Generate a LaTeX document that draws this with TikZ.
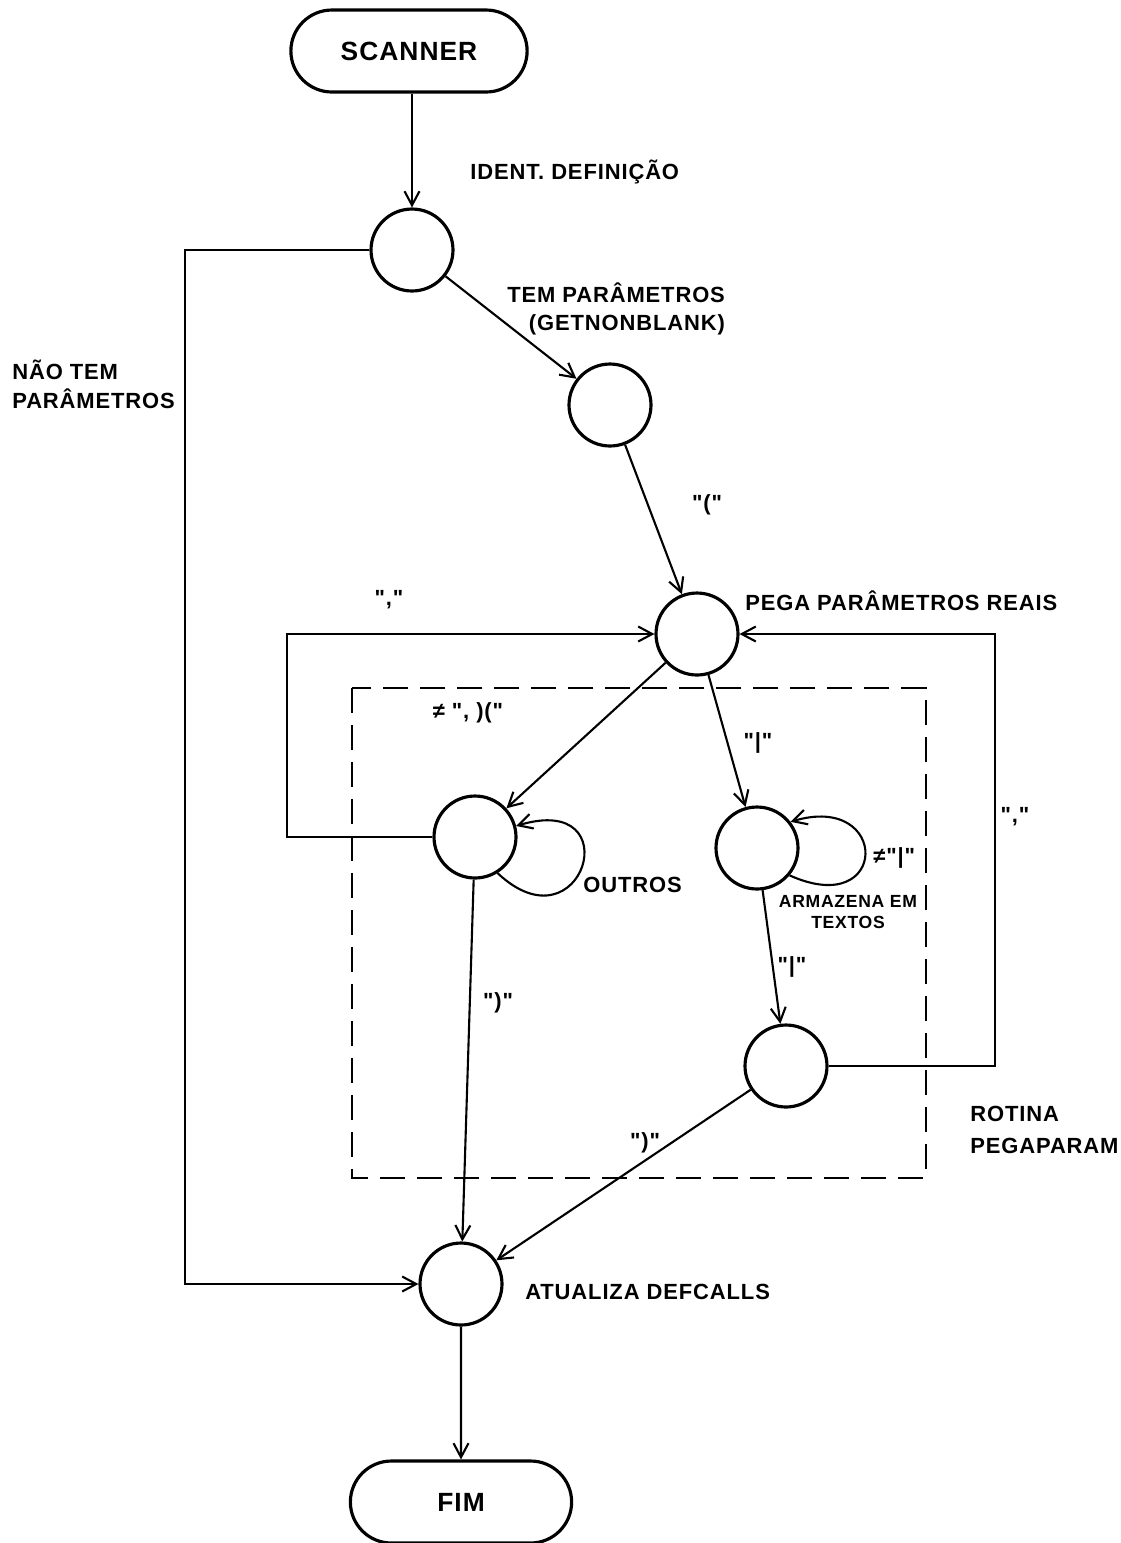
\documentclass[tikz,border=0pt]{standalone}
\usepackage{fontspec}
\setmainfont{Liberation Sans}[Ligatures=TeXOff,LetterSpace=4]
\usetikzlibrary{arrows.meta,positioning,calc,shapes.misc}

\begin{document}
\begin{tikzpicture}[x=0.02cm,y=0.02cm, every node/.style={font=\bfseries\fontsize{12.5}{16}\selectfont},
 st/.style={draw,circle,line width=1.8pt,minimum size=1.64cm,inner sep=0pt},
 term/.style={draw,rounded rectangle,line width=1.8pt,minimum height=1.64cm,font=\bfseries\fontsize{15}{18}\selectfont},
 lbl/.style={inner sep=0pt,align=left},
 arr/.style={-{Straight Barb[length=2.8mm,width=3mm]},line width=1.2pt},
 dbox/.style={line width=1.3pt,dash pattern=on 0.5cm off 0.24cm}]
\useasboundingbox (0,0) rectangle (1121,-1543);
\node[term,minimum width=4.96cm] (scan) at (409,-51) {SCANNER};
\node[st] (ident) at (412,-250) {};
\node[st] (param) at (610,-405) {};
\node[st] (pega) at (697,-634) {};
\node[st] (outros) at (475,-837) {};
\node[st] (texto) at (757,-848) {};
\node[st] (fecha) at (786,-1066) {};
\node[st] (atual) at (461,-1284) {};
\node[term,minimum width=4.66cm] (fim) at (461,-1502) {FIM};
\draw[dbox] (352,-688) rectangle (926,-1178);
\node[lbl,anchor=west] (lident) at (470,-172) {IDENT. DEFINIÇÃO};
\node[lbl,anchor=north west,align=right] (ltem) at (507,-282) {TEM PARÂMETROS\\(GETNONBLANK)};
\node[lbl,anchor=north west] (lnao) at (12,-360) {NÃO TEM\\PARÂMETROS};
\node[lbl] (labre) at (707,-505) {"("};
\node[lbl,anchor=west] (lpega) at (745,-601) {PEGA PARÂMETROS REAIS};
\node[lbl] (lvirg) at (389,-600) {","};
\node[lbl] (ldif) at (468,-713) {≠ ", )("};
\node[lbl] (lbar) at (758,-743) {"|"};
\node[lbl,anchor=west] (lout) at (583,-885) {OUTROS};
\node[lbl,anchor=west] (lndbar) at (873,-858) {≠"|"};
\node[lbl,align=center,font=\bfseries\fontsize{10}{12}\selectfont] (larm) at (848,-912) {ARMAZENA EM\\TEXTOS};
\node[lbl] (lvirgb) at (1015,-817) {","};
\node[lbl] (lbarb) at (792,-967) {"|"};
\node[lbl] (lfecha) at (498,-1003) {")"};
\node[lbl] (lfechb) at (645,-1143) {")"};
\node[lbl,anchor=north west,font=\bfseries\fontsize{12.5}{18}\selectfont] (lrot) at (970,-1106) {ROTINA\\PEGAPARAM};
\node[lbl,anchor=west] (latual) at (525,-1292) {ATUALIZA DEFCALLS};
\draw[arr] (scan.south -| ident.north) -- (ident); \draw[arr] (ident) -- (param);
\draw[arr] (param) -- (pega); \draw[arr] (pega) -- (outros); \draw[arr] (pega) -- (texto);
\draw[arr] (texto) -- (fecha); \draw[arr] (outros) -- (atual); \draw[arr] (fecha) -- (atual);
\draw[arr] (atual) -- (fim);
\draw[arr] (ident.west) -- ++(-184,0) |- (atual);
\draw[arr] (outros.west) -- ++(-145,0) |- (pega);
\draw[arr] (fecha.east) -- ++(166,0) |- (pega);
\draw[arr] (outros.-58) .. controls +(85,-80) and +(115,35) .. (outros.15);
\draw[arr] (texto.-40) .. controls +(100,-45) and +(100,30) .. (texto.38);
\end{tikzpicture}
\end{document}
